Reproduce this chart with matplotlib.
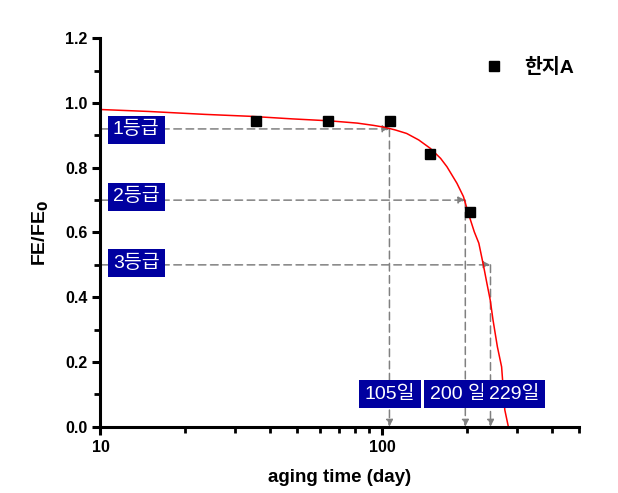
import matplotlib.pyplot as plt
from matplotlib.ticker import MultipleLocator, FixedLocator, NullFormatter

plt.rcParams['font.family'] = ['Liberation Sans', 'Noto Sans CJK KR']

# measured points (day, FE/FE0)
days = [35.5, 64, 106.5, 147.6, 205]
fe_ratio = [0.945, 0.945, 0.945, 0.841, 0.664]

# fitted curve
fit_days = [10, 14.8, 23.4, 34, 48, 65, 81.5, 93, 102, 111, 122, 134.6, 148,
            161, 169.6, 184, 194, 202, 212, 220, 229, 235, 241.5, 247, 256,
            265, 272, 280]
fit_ratio = [0.980, 0.974, 0.965, 0.959, 0.951, 0.945, 0.938, 0.931, 0.925,
             0.917, 0.906, 0.886, 0.860, 0.829, 0.803, 0.752, 0.711, 0.659,
             0.602, 0.567, 0.494, 0.443, 0.391, 0.330, 0.247, 0.185, 0.052,
             0.0]

# grade thresholds and where the guide lines drop
grade_levels = [0.92, 0.70, 0.50]
grade_days = [106, 197, 242]
grade_names = ['1등급', '2등급', '3등급']
grade_label_y = [0.918, 0.71, 0.506]
day_labels = ['105일', '200 일', '229일']
day_label_x = [106.5, 184.8, 293]

fig = plt.figure(figsize=(6.18, 4.93), dpi=100)
ax = fig.add_axes([0.1626, 0.1345, 0.9374 - 0.1626, 0.9223 - 0.1345])

ax.plot(fit_days, fit_ratio, color='red', lw=1.1, zorder=2)
ax.plot(days, fe_ratio, 's', color='black', ms=7.5, label='한지A', zorder=3)

arrow_kw = dict(arrowstyle='-|>', color='gray', lw=1.1, ls=(0, (5, 3)),
                mutation_scale=10, shrinkA=0, shrinkB=0)
for lvl, d in zip(grade_levels, grade_days):
    ax.annotate('', xy=(d, lvl), xytext=(10, lvl), arrowprops=arrow_kw,
                zorder=1)
    ax.annotate('', xy=(d, 0.0), xytext=(d, lvl), arrowprops=arrow_kw,
                zorder=1)

box = dict(boxstyle='square,pad=0.28', fc='#0000a0', ec='none')
for name, y in zip(grade_names, grade_label_y):
    ax.text(13.4, y, name, color='white', fontsize=14, ha='center',
            va='center', bbox=box, zorder=4)
for lab, x in zip(day_labels, day_label_x):
    ax.text(x, 0.101, lab, color='white', fontsize=14, ha='center',
            va='center', bbox=box, zorder=4)

ax.set_xscale('log')
ax.set_xlim(10, 500)
ax.set_ylim(0, 1.2)
ax.yaxis.set_major_locator(MultipleLocator(0.2))
ax.yaxis.set_minor_locator(MultipleLocator(0.1))
ax.xaxis.set_major_locator(FixedLocator([10, 100]))
ax.xaxis.set_minor_locator(FixedLocator([20, 30, 40, 50, 60, 70, 80, 90,
                                         200, 300, 400, 500]))
ax.xaxis.set_minor_formatter(NullFormatter())
ax.set_xticklabels(['10', '100'])
ax.set_yticks([0, 0.2, 0.4, 0.6, 0.8, 1.0, 1.2])
ax.set_yticklabels(['0.0', '0.2', '0.4', '0.6', '0.8', '1.0', '1.2'])

for side in ['top', 'right']:
    ax.spines[side].set_visible(False)
for side in ['left', 'bottom']:
    ax.spines[side].set_linewidth(2.2)
ax.tick_params(which='major', length=6, width=2.2, labelsize=11.5)
ax.tick_params(which='minor', length=4, width=2)
for t in ax.get_xticklabels() + ax.get_yticklabels():
    t.set_fontweight('bold')

ax.set_xlabel('aging time (day)', fontsize=13.5, fontweight='bold',
              labelpad=10)
ax.set_ylabel('FE/FE$_\\mathbf{0}$', fontsize=14, fontweight='bold',
              labelpad=10)

ax.legend(loc='upper left', bbox_to_anchor=(0.755, 0.995), frameon=False,
          handlelength=1.5, handletextpad=0.8, markerscale=1.0,
          prop=dict(weight='bold', size=14))

fig.savefig('out.png', dpi=100)
